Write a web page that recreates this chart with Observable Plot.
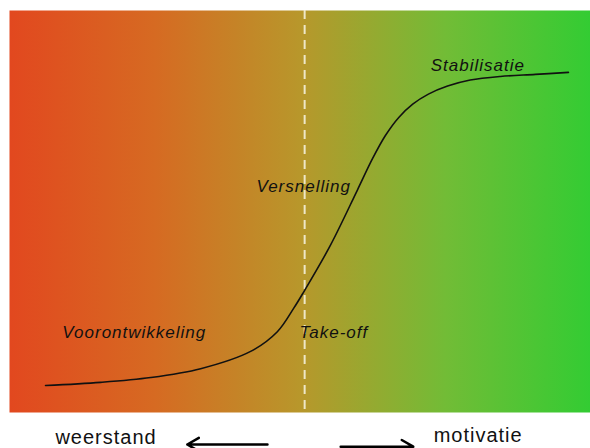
<!DOCTYPE html>
<html>
<head>
<meta charset="utf-8">
<script src="https://cdn.jsdelivr.net/npm/d3@7"></script>
<script src="https://cdn.jsdelivr.net/npm/@observablehq/plot@0.6"></script>
<style>
  html, body { margin: 0; padding: 0; background: #fff; }
  #chart svg { display: block; }
</style>
</head>
<body>
<div id="chart"></div>
<script>
// S-curve (time 0-100, adoption 0-100)
const curveX = [6.2, 15.7, 24.3, 32.9, 41.5, 46.1, 48.9, 50.6, 55.2, 59.9, 62.5, 64.7, 67.0, 69.4, 72.1, 75.4, 79.3, 84.5, 90.5, 96.2];
const curveY = [6.7, 7.5, 8.7, 10.9, 15.2, 20.1, 25.9, 29.9, 41.5, 55.4, 63.2, 68.9, 73.4, 76.7, 79.2, 81.2, 82.7, 83.6, 84.1, 84.6];

// Take-off moment
const takeOffX = [50.8];

// Phase labels
const phaseLabels = ["Voorontwikkeling", "Take-off", "Versnelling", "Stabilisatie"];
const phaseX = [9.1, 49.9, 42.5, 72.5];
const phaseY = [20.0, 20.0, 56.1, 86.4];

// Bottom axis labels
const axisLabels = ["weerstand", "motivatie"];
const axisLabelX = [7.9, 73.0];
const axisLabelY = [-6.3, -5.8];

// Arrows (from -> to)
const arrowX1 = [44.4, 57.0];
const arrowX2 = [30.6, 69.5];
const arrowY = [-7.96, -8.5];

const curve = curveX.map((x, i) => ({x, y: curveY[i]}));
const phases = phaseLabels.map((t, i) => ({t, x: phaseX[i], y: phaseY[i]}));
const axisTexts = axisLabels.map((t, i) => ({t, x: axisLabelX[i], y: axisLabelY[i]}));
const arrows = arrowX1.map((x1, i) => ({x1, x2: arrowX2[i], y: arrowY[i]}));

const svg = Plot.plot({
  width: 590,
  height: 448,
  marginLeft: 9,
  marginRight: 0,
  marginTop: 10,
  marginBottom: 36,
  x: {domain: [0, 100], axis: null},
  y: {domain: [0, 100], axis: null},
  style: {fontFamily: "'Liberation Sans', Arial, sans-serif", background: "#fff", overflow: "visible"},
  marks: [
    Plot.frame({fill: "url(#bggrad)", stroke: null}),
    Plot.ruleX(takeOffX, {stroke: "#f4f0d8", strokeWidth: 2, strokeDasharray: "9,6", strokeOpacity: 0.9}),
    Plot.line(curve, {x: "x", y: "y", curve: "catmull-rom", stroke: "#111", strokeWidth: 1.6}),
    Plot.text(phases, {x: "x", y: "y", text: "t", textAnchor: "start", fontSize: 17, fontStyle: "italic", fill: "#111"}),
    Plot.text(axisTexts, {x: "x", y: "y", text: "t", textAnchor: "start", fontSize: 20, fill: "#111"}),
    Plot.arrow(arrows, {x1: "x1", x2: "x2", y1: "y", y2: "y", stroke: "#000", strokeWidth: 2.5, headLength: 8, headAngle: 60})
  ]
});

// gradient definition for the background
const defs = d3.select(svg).insert("defs", ":first-child");
const g = defs.append("linearGradient").attr("id", "bggrad").attr("x1", "0%").attr("x2", "100%").attr("y1", "0%").attr("y2", "0%");
const stops = [[0, "#E2481F"], [0.25, "#D66A22"], [0.5, "#B8972B"], [0.75, "#72BC36"], [1, "#33CC33"]];
stops.forEach(([o, c]) => g.append("stop").attr("offset", o).attr("stop-color", c));
d3.select(svg).selectAll("text").style("letter-spacing", function() { return this.getAttribute("font-style") === "italic" ? "0.6px" : "1px"; });

document.getElementById("chart").appendChild(svg);
</script>
</body>
</html>
